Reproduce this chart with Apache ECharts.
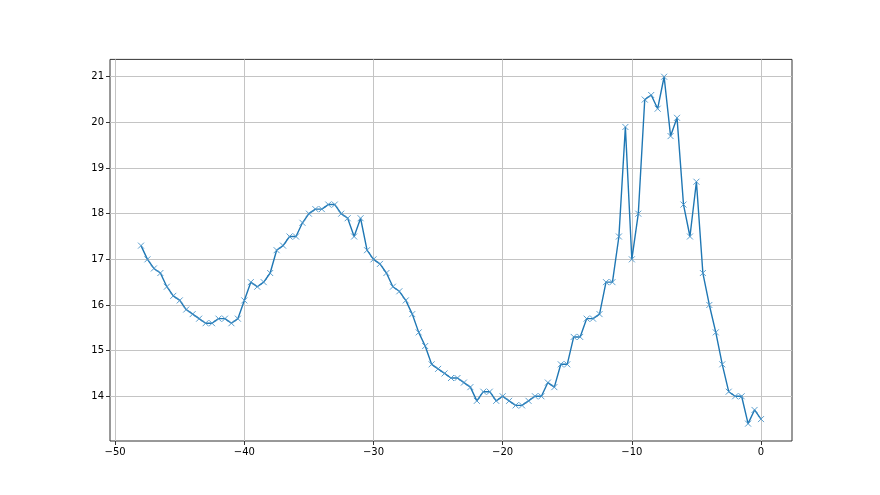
<!DOCTYPE html>
<html>
<head>
<meta charset="utf-8">
<script src="https://cdn.jsdelivr.net/npm/echarts@6/dist/echarts.min.js"></script>
<style>
html,body{margin:0;padding:0;background:#fff;}
#chart{width:880px;height:495px;}
</style>
</head>
<body>
<div id="chart"></div>
<script>
const xValues = [-48,-47.5,-47,-46.5,-46,-45.5,-45,-44.5,-44,-43.5,-43,-42.5,-42,-41.5,-41,-40.5,-40,-39.5,-39,-38.5,-38,-37.5,-37,-36.5,-36,-35.5,-35,-34.5,-34,-33.5,-33,-32.5,-32,-31.5,-31,-30.5,-30,-29.5,-29,-28.5,-28,-27.5,-27,-26.5,-26,-25.5,-25,-24.5,-24,-23.5,-23,-22.5,-22,-21.5,-21,-20.5,-20,-19.5,-19,-18.5,-18,-17.5,-17,-16.5,-16,-15.5,-15,-14.5,-14,-13.5,-13,-12.5,-12,-11.5,-11,-10.5,-10,-9.5,-9,-8.5,-8,-7.5,-7,-6.5,-6,-5.5,-5,-4.5,-4,-3.5,-3,-2.5,-2,-1.5,-1,-0.5,0];
const yValues = [17.3,17.0,16.8,16.7,16.4,16.2,16.1,15.9,15.8,15.7,15.6,15.6,15.7,15.7,15.6,15.7,16.1,16.5,16.4,16.5,16.7,17.2,17.3,17.5,17.5,17.8,18.0,18.1,18.1,18.2,18.2,18.0,17.9,17.5,17.9,17.2,17.0,16.9,16.7,16.4,16.3,16.1,15.8,15.4,15.1,14.7,14.6,14.5,14.4,14.4,14.3,14.2,13.9,14.1,14.1,13.9,14.0,13.9,13.8,13.8,13.9,14.0,14.0,14.3,14.2,14.7,14.7,15.3,15.3,15.7,15.7,15.8,16.5,16.5,17.5,19.9,17.0,18.0,20.5,20.6,20.3,21.0,19.7,20.1,18.2,17.5,18.7,16.7,16.0,15.4,14.7,14.1,14.0,14.0,13.4,13.7,13.5];
const xTicks = [-50,-40,-30,-20,-10,0];
const yTicks = [14,15,16,17,18,19,20,21];

const fmt = v => String(v).replace('-', '\u2212');
const chart = echarts.init(document.getElementById('chart'), null, {renderer:'canvas'});
const data = xValues.map((x,i) => [x, yValues[i]]);
chart.setOption({
  animation:false,
  backgroundColor:'#fff',
  grid:{left:110,right:88,top:59.4,bottom:54,show:true,borderColor:'#333',borderWidth:1,backgroundColor:'transparent'},
  xAxis:{
    type:'value', min:-50.4, max:2.4,
    axisLine:{show:false,onZero:false},
    axisTick:{show:true,inside:false,length:4,customValues:xTicks,lineStyle:{color:'#333',width:1}},
    axisLabel:{customValues:xTicks,formatter:fmt,color:'#000',fontSize:10,fontFamily:'DejaVu Sans',margin:6},
    splitLine:{show:true,lineStyle:{color:'#c4c4c4',width:1}}
  },
  yAxis:{
    type:'value', min:13.02, max:21.38,
    axisLine:{show:false,onZero:false},
    axisTick:{show:true,inside:false,length:4,customValues:yTicks,lineStyle:{color:'#333',width:1}},
    axisLabel:{customValues:yTicks,formatter:fmt,color:'#000',fontSize:10,fontFamily:'DejaVu Sans',margin:6},
    splitLine:{show:true,lineStyle:{color:'#c4c4c4',width:1}}
  },
  series:[{
    type:'line',
    data:data,
    symbol:'path://M0,0L10,10M10,0L0,10',
    symbolSize:6,
    showAllSymbol:true,
    lineStyle:{color:'#1f77b4',width:1.4},
    itemStyle:{color:'none',borderColor:'#4a94c8',borderWidth:0.9},
    emphasis:{disabled:true}
  }]
});
</script>
</body>
</html>
